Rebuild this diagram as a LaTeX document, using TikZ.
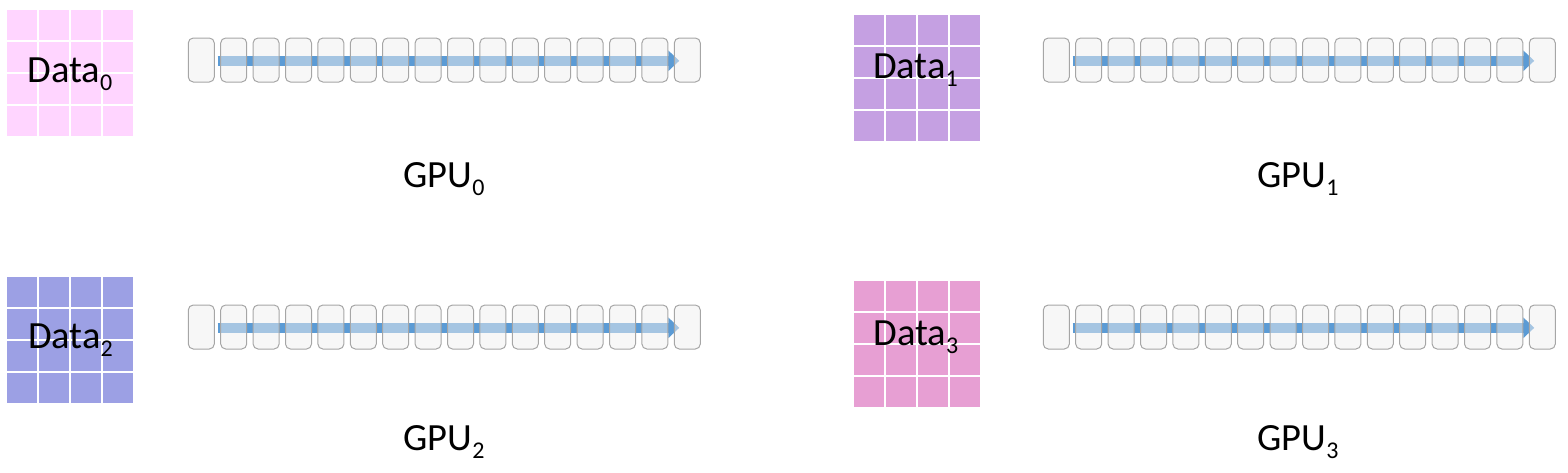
\documentclass[tikz,border=0pt]{standalone}
\usepackage{fontspec}
\setmainfont{Carlito}
\usetikzlibrary{arrows.meta}
\definecolor{dzero}{HTML}{FFD5FF}
\definecolor{done}{HTML}{C5A0E2}
\definecolor{dtwo}{HTML}{9CA0E4}
\definecolor{dthree}{HTML}{E79FD3}
\definecolor{flowblue}{HTML}{5B9BD5}
\definecolor{boxfill}{HTML}{F0F0F0}
\definecolor{boxline}{HTML}{A6A6A6}
\newcommand\lowsub[1]{\raisebox{-8pt}{\fontsize{24}{24}\selectfont #1}}
\tikzset{
  gbox/.style={draw=boxline, line width=1pt, rounded corners=5pt, fill=boxfill, fill opacity=0.5,
    minimum width=26pt, minimum height=44pt, inner sep=0pt},
  flow/.style={draw=flowblue, line width=10.5pt, -{Triangle[length=11pt,width=20pt]}},
  lbl/.style={inner sep=0pt, anchor=base, font=\fontsize{38.5}{38.5}\selectfont},
  cell/.style={fill=#1}
}
\newcommand\datagrid[4]{% name, x, y, color
  \foreach \i in {0,...,3}{\foreach \j in {0,...,3}{
    \fill[cell=#4] ({#2+\i*32},{#3+\j*32}) rectangle +(30,30);}}
  \coordinate (#1) at ({#2+63},{#3+63});
}
\newcommand\gpurow[3]{% name, x0 (left of first box), y center
  \coordinate (#1-s) at ({#2+29.4},{#3+0.8});
  \coordinate (#1-e) at ({#2+491},{#3+0.8});
  \draw[flow] (#1-s) -- (#1-e);
  \foreach \k in {0,...,15}{
    \node[gbox] (#1-\k) at ({#2+13+\k*32.4},#3) {};}
}
\begin{document}
\begin{tikzpicture}[x=1pt,y=-1pt]
\useasboundingbox (0,0) rectangle (1568,472);
% data grids
\datagrid{g0}{7.3}{10}{dzero}
\datagrid{g1}{854}{14.5}{done}
\datagrid{g2}{6.8}{277.3}{dtwo}
\datagrid{g3}{853.5}{281}{dthree}
% data labels
\node[lbl] (d0) at (70,82) {Data\lowsub{0}};
\node[lbl] (d1) at (915.5,78) {Data\lowsub{1}};
\node[lbl] (d2) at (70.5,348) {Data\lowsub{2}};
\node[lbl] (d3) at (916,345) {Data\lowsub{3}};
% gpu rows
\gpurow{r0}{188.3}{60}
\gpurow{r1}{1043.3}{60}
\gpurow{r2}{188.3}{327}
\gpurow{r3}{1043.3}{327}
% gpu labels
\node[lbl] (p0) at (444,187) {GPU\lowsub{0}};
\node[lbl] (p1) at (1298,187) {GPU\lowsub{1}};
\node[lbl] (p2) at (444,450) {GPU\lowsub{2}};
\node[lbl] (p3) at (1298,450) {GPU\lowsub{3}};
\end{tikzpicture}
\end{document}
